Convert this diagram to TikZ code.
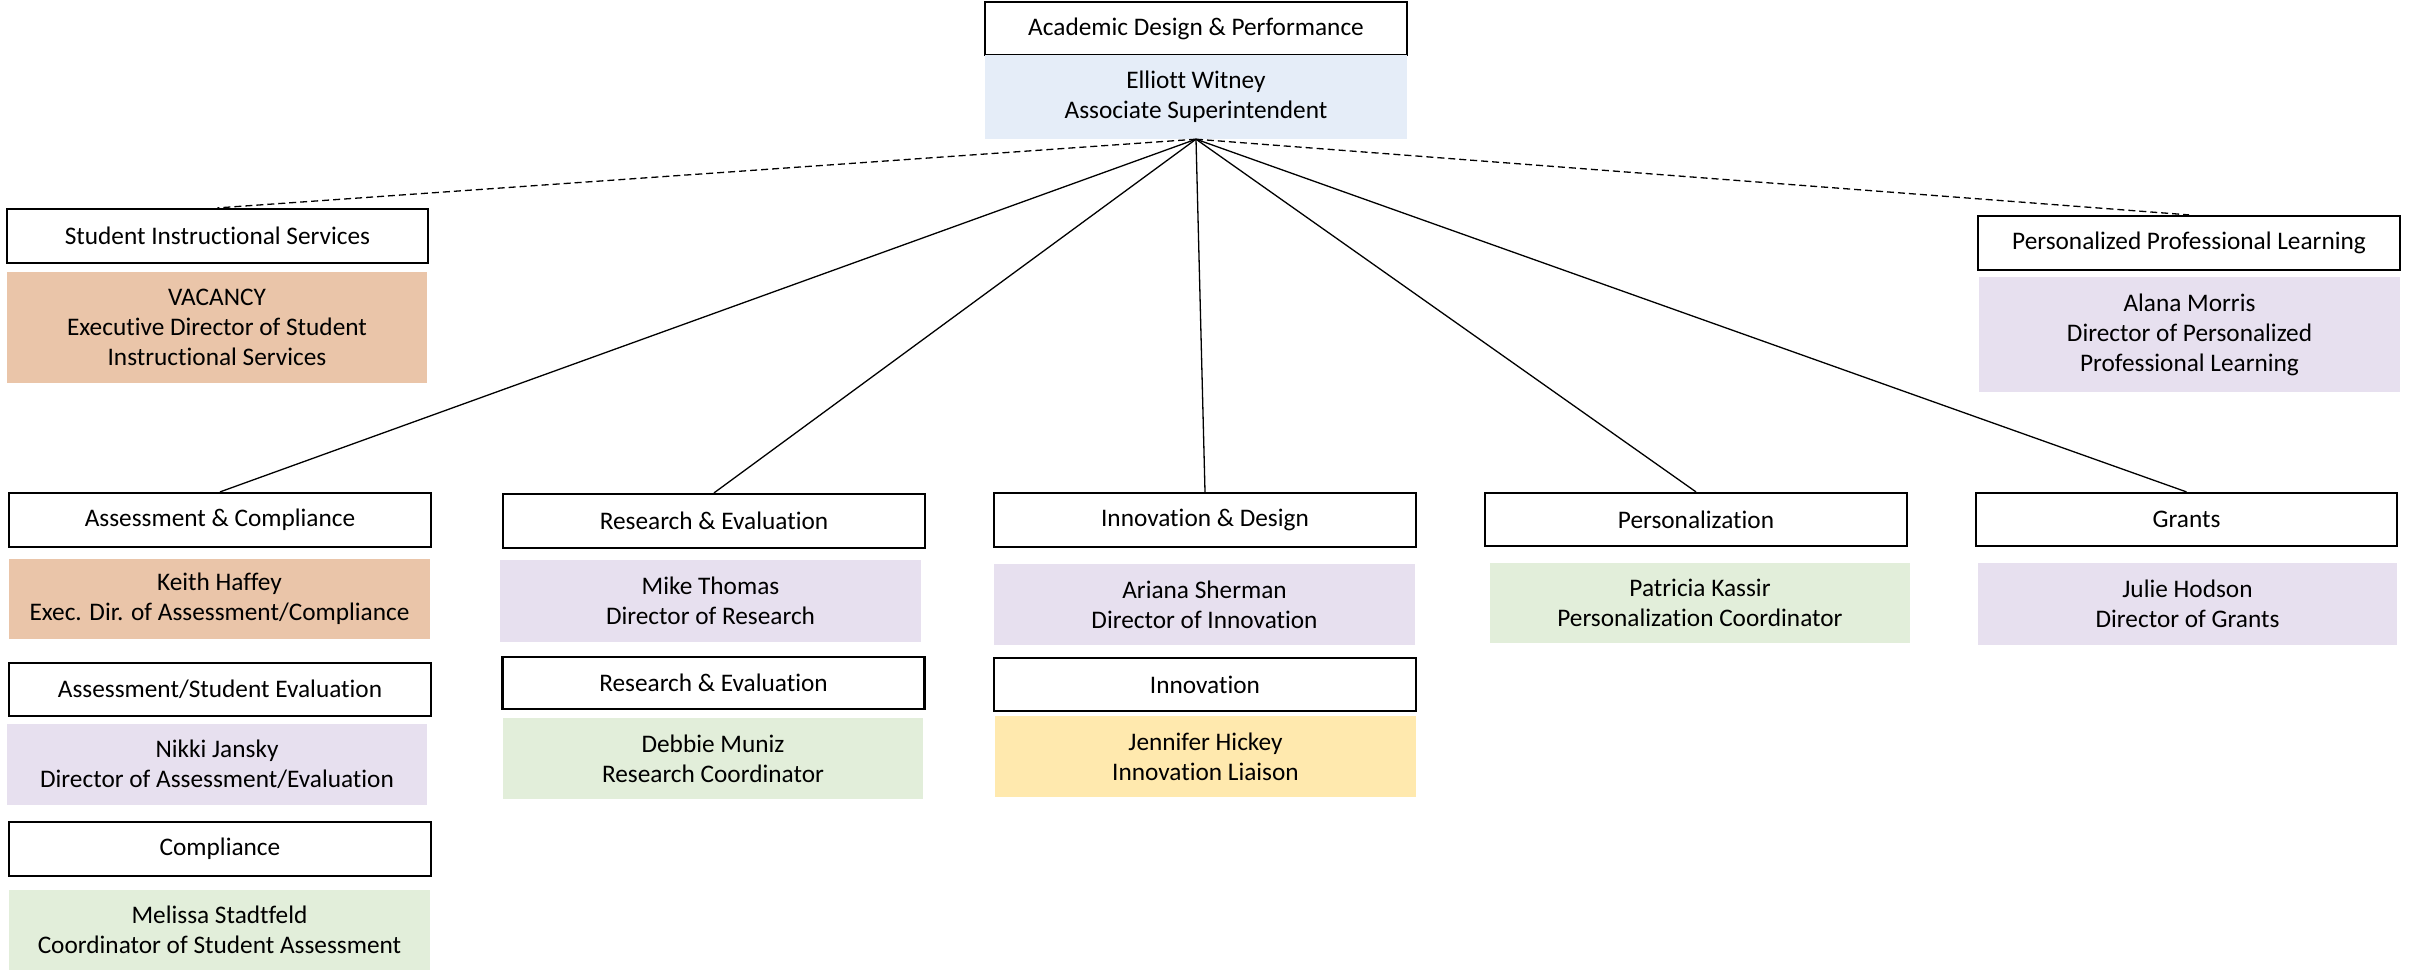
\documentclass[tikz,border=0pt]{standalone}
\usepackage{fontspec}
\setmainfont[Ligatures=NoCommon,Contextuals=NoAlternate]{Carlito}
\begin{document}
\begin{tikzpicture}[x=1pt,y=-1pt,
  font=\fontsize{25.3}{30}\selectfont,
  hdr/.style={draw=black,line width=2.2pt,fill=white,minimum height=54pt,minimum width=422pt,inner sep=0pt,align=center},
  per/.style={draw=none,minimum width=421pt,inner sep=0pt,align=center},
  cblue/.style={per,fill=pblue},
  corange/.style={per,fill=porange},
  cpurple/.style={per,fill=ppurple},
  cgreen/.style={per,fill=pgreen},
  cyellow/.style={per,fill=pyellow},
  link/.style={draw=black,line width=1.3pt},
  dlink/.style={draw=black,line width=1.3pt,dash pattern=on 7pt off 4pt}]
\definecolor{pblue}{HTML}{E5EDF8}
\definecolor{porange}{HTML}{EAC5A9}
\definecolor{ppurple}{HTML}{E7E0EF}
\definecolor{pgreen}{HTML}{E2EEDA}
\definecolor{pyellow}{HTML}{FFE9AE}
\useasboundingbox[fill=white] (0,0) rectangle (2412,970);

% top
\node[hdr,minimum height=53pt] (adp) at (1196,28.5) {Academic Design \& Performance};
\node[cblue,minimum width=422pt,minimum height=84pt] (ew) at (1196,97) {Elliott Witney\\Associate Superintendent};

% side units
\node[hdr,minimum width=421pt] (sis) at (217.5,236) {Student Instructional Services};
\node[corange,minimum width=420pt,minimum height=111pt] (vac) at (217,327.5) {VACANCY\\Executive Director of Student\\Instructional Services};
\node[hdr] (ppl) at (2189,243) {Personalized Professional Learning};
\node[cpurple,minimum height=115pt] (am) at (2189.5,334.5) {Alana Morris\\Director of Personalized\\Professional Learning};

% column 1
\node[hdr] (ac) at (220,520) {Assessment \& Compliance};
\node[corange,minimum height=80pt] (kh) at (219.5,599) {Keith Haffey\\Exec. Dir. of Assessment/Compliance};
\node[hdr,minimum height=53pt] (ase) at (220,689.5) {Assessment/Student Evaluation};
\node[cpurple,minimum width=420pt,minimum height=81pt] (nj) at (217,764.5) {Nikki Jansky\\Director of Assessment/Evaluation};
\node[hdr] (comp) at (220,849) {Compliance};
\node[cgreen,minimum height=80pt] (ms) at (219.5,930) {Melissa Stadtfeld\\Coordinator of Student Assessment};

% column 2
\node[hdr] (re) at (714,521) {Research \& Evaluation};
\node[cpurple,minimum height=82pt] (mt) at (710.5,601) {Mike Thomas\\Director of Research};
\node[hdr,minimum height=52pt] (re2) at (713.5,683) {Research \& Evaluation};
\node[cgreen,minimum width=420pt,minimum height=81pt] (dm) at (713,758.5) {Debbie Muniz\\Research Coordinator};

% column 3
\node[hdr] (id) at (1205,520) {Innovation \& Design};
\node[cpurple,minimum height=81pt] (as) at (1204.5,604.5) {Ariana Sherman\\Director of Innovation};
\node[hdr,minimum height=53pt] (inn) at (1205,684.5) {Innovation};
\node[cyellow,minimum height=81pt] (jh) at (1205.5,756.5) {Jennifer Hickey\\Innovation Liaison};

% column 4
\node[hdr,minimum height=53pt] (pers) at (1696,519.5) {Personalization};
\node[cgreen,minimum width=420pt,minimum height=80pt] (pk) at (1700,603) {Patricia Kassir\\Personalization Coordinator};

% column 5
\node[hdr,minimum width=421pt,minimum height=53pt] (gr) at (2186.5,519.5) {Grants};
\node[cpurple,minimum width=419pt,minimum height=82pt] (jhod) at (2187.5,604) {Julie Hodson\\Director of Grants};

% connectors
\draw[dlink] (ew.south) -- (sis.north);
\draw[dlink] (ew.south) -- (ppl.north);
\draw[link] (ew.south) -- (ac.north);
\draw[link] (ew.south) -- (re.north);
\draw[link] (ew.south) -- (id.north);
\draw[link] (ew.south) -- (pers.north);
\draw[link] (ew.south) -- (gr.north);
\end{tikzpicture}
\end{document}
